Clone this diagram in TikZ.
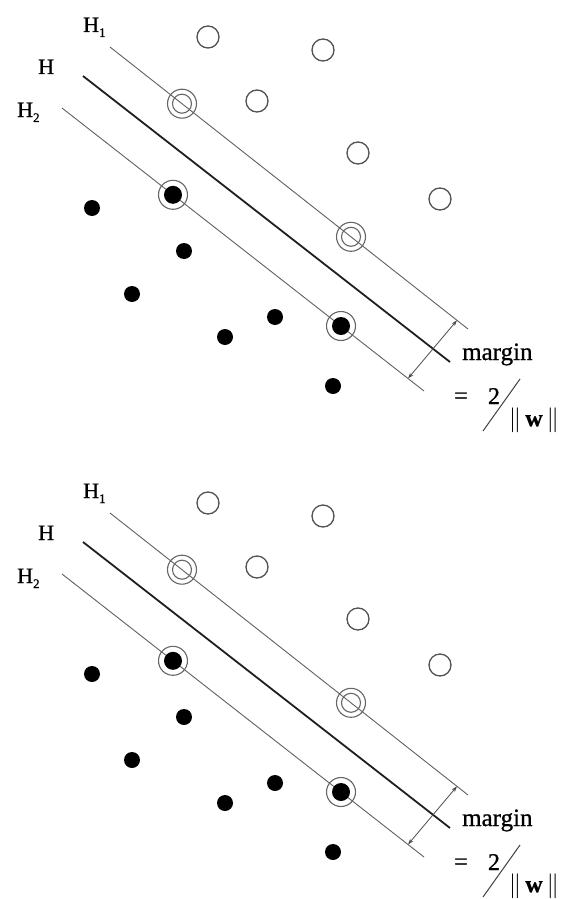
\documentclass[tikz,border=0pt]{standalone}
\usepackage{fontspec}
\setmainfont{Liberation Serif}
\newfontfamily\labfont[FakeBold=0.9]{Liberation Serif}
\usetikzlibrary{arrows.meta}
\begin{document}
\begin{tikzpicture}[x=1pt,y=-1pt,
  thinline/.style={draw=black!62, line width=0.9pt},
  mainline/.style={draw=black!88, line width=1.8pt},
  opencirc/.style={circle, draw=black!68, line width=1.3pt, minimum size=22pt, inner sep=0pt},
  dotnode/.style={circle, fill=black, minimum size=16pt, inner sep=0pt},
  svring/.style={circle, draw=black!60, line width=1.1pt, minimum size=29pt, inner sep=0pt},
  svopen/.style={circle, draw=black!60, line width=1.1pt, minimum size=19pt, inner sep=0pt},
  svdot/.style={circle, fill=black, minimum size=18pt, inner sep=0pt},
  lab/.style={font=\labfont\fontsize{22}{22}\selectfont, inner sep=0pt, anchor=base west},
  txt/.style={font=\labfont\fontsize{25}{25}\selectfont, inner sep=0pt},
  marrow/.style={draw=black!70, line width=0.8pt, {Stealth[length=6pt,width=4pt]}-{Stealth[length=6pt,width=4pt]}}
]
\useasboundingbox (0,0) rectangle (563,899);
\fill[white] (0,0) rectangle (563,899);
\newcommand{\subsc}[1]{\raisebox{-5pt}{\fontsize{13}{13}\selectfont #1}}
\foreach \p/\dy in {a/0,b/466}{
\begin{scope}[shift={(0,\dy)}]
  % hyperplane end points
  \coordinate (\p-h1s) at (110,47);
  \coordinate (\p-h1e) at (468,329);
  \coordinate (\p-hs) at (83,76);
  \coordinate (\p-he) at (450,362);
  \coordinate (\p-h2s) at (62,108);
  \coordinate (\p-h2e) at (424,391);
  \draw[thinline] (\p-h1s) -- (\p-h1e);
  \draw[mainline] (\p-hs) -- (\p-he);
  \draw[thinline] (\p-h2s) -- (\p-h2e);
  % margin arrow
  \coordinate (\p-m1) at (457,320.3);
  \coordinate (\p-m2) at (408,378.5);
  \draw[marrow] (\p-m2) -- (\p-m1);
  % open circles
  \node[opencirc] (\p-o1) at (208,37) {};
  \node[opencirc] (\p-o2) at (323,50) {};
  \node[opencirc] (\p-o3) at (257,101) {};
  \node[opencirc] (\p-o4) at (358,153) {};
  \node[opencirc] (\p-o5) at (440,199) {};
  % open support vectors
  \node[svopen] (\p-so1) at (182,103.7) {};
  \node[svring] (\p-sr1) at (182,103.7) {};
  \node[svopen] (\p-so2) at (351,236.8) {};
  \node[svring] (\p-sr2) at (351,236.8) {};
  % filled dots
  \node[dotnode] (\p-d1) at (92,208) {};
  \node[dotnode] (\p-d2) at (184,251) {};
  \node[dotnode] (\p-d3) at (132,294) {};
  \node[dotnode] (\p-d4) at (225,337) {};
  \node[dotnode] (\p-d5) at (275,317) {};
  \node[dotnode] (\p-d6) at (333,386) {};
  % filled support vectors
  \node[svdot] (\p-sd1) at (173,194.8) {};
  \node[svring] (\p-sq1) at (173,194.8) {};
  \node[svdot] (\p-sd2) at (341,326) {};
  \node[svring] (\p-sq2) at (341,326) {};
  % labels
  \node[lab] (\p-l1) at (83,32) {H\subsc{1}};
  \node[lab] (\p-l0) at (38,74) {H};
  \node[lab] (\p-l2) at (17,117) {H\subsc{2}};
  \node[txt, anchor=base west] (\p-mg) at (462,360) {margin};
  \node[txt, font=\labfont\fontsize{24}{24}\selectfont] (\p-eq) at (461,398) {=};
  \node[txt, font=\labfont\fontsize{24}{24}\selectfont, anchor=base] (\p-two) at (494,404) {2};
  \coordinate (\p-s1) at (483,431);
  \coordinate (\p-s2) at (520,379);
  \draw[draw=black!75, line width=1pt] (\p-s1) -- (\p-s2);
  \node[txt, font=\labfont\fontsize{24}{24}\selectfont] (\p-nw) at (534,420) {$\|$\,\textbf{w}\,$\|$};
\end{scope}
}
\end{tikzpicture}
\end{document}
